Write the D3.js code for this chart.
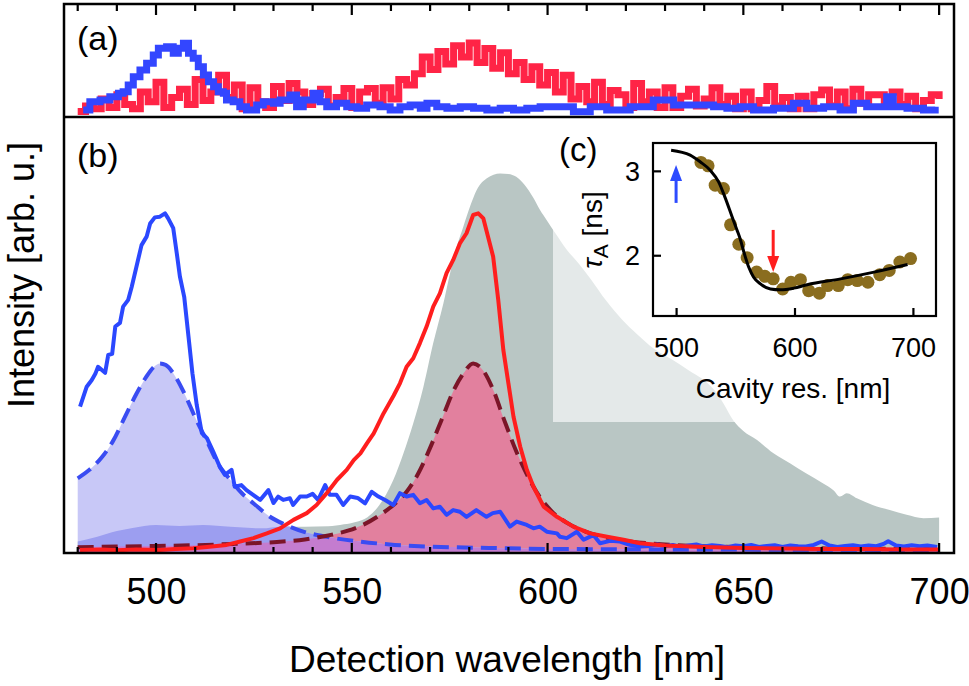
<!DOCTYPE html>
<html><head><meta charset="utf-8">
<script src="https://cdn.jsdelivr.net/npm/d3@7"></script>
<style>
body{margin:0;background:#fff}
svg{display:block}
text{font-family:"Liberation Sans",Arial,Helvetica,sans-serif;fill:#000}
</style>
</head><body>
<svg id="chart" width="969" height="686"></svg>
<script>
// ---------------- DATA ----------------
const mainTickLabels = [500, 550, 600, 650, 700];
const minorTicks = [480,490,500,510,520,530,540,550,560,570,580,590,600,610,620,630,640,650,660,670,680,690,700];
const insetXTicks = [500, 600, 700];
const insetYTicks = [2, 3];

// panel (a): [wavelength nm, counts (arb.)]
const redA = [[480,2],[482,10],[484,6],[486,20],[488,8],[490,26],[492,12],[494,6],[496,30],[498,16],[500,44],[502,8],[504,22],[506,34],[508,12],[510,48],[512,18],[514,30],[516,54],[518,22],[520,40],[522,6],[524,36],[526,16],[528,8],[530,38],[532,18],[534,42],[536,30],[538,12],[540,28],[542,34],[544,10],[546,22],[548,35],[550,8],[552,30],[554,35],[556,14],[558,36],[560,20],[562,48],[564,40],[566,56],[568,80],[570,62],[572,88],[574,70],[576,96],[578,80],[580,100],[582,72],[584,92],[586,64],[588,86],[590,56],[592,72],[594,48],[596,66],[598,40],[600,58],[602,30],[604,54],[606,20],[608,38],[610,16],[612,44],[614,12],[616,32],[618,26],[620,8],[622,42],[624,16],[626,30],[628,8],[630,36],[632,8],[634,24],[636,34],[638,10],[640,20],[642,36],[644,12],[646,24],[648,6],[650,30],[652,6],[654,18],[656,38],[658,10],[660,22],[662,6],[664,24],[666,6],[668,26],[670,33],[672,10],[674,30],[676,6],[678,34],[680,14],[682,26],[684,26],[686,10],[688,30],[690,12],[692,24],[694,6],[696,18],[698,26],[700,20]];
const blueA = [[481.4,4.3],[483.1,16.1],[485.7,18.6],[488.2,23.3],[490.4,28.1],[491.6,30.4],[492.9,40],[494.2,51.9],[495.9,61.4],[497.6,71],[499.3,82.9],[500.6,92.4],[502.7,94.7],[504.4,85.3],[505.7,92.4],[507,99.6],[508.3,85.3],[509.5,78.1],[510.8,66.1],[512.1,54.3],[513.4,44.7],[514.7,37.6],[515.9,30.4],[517.2,28.1],[518,18.6],[519.7,16.1],[521.4,9],[523.1,4.3],[525.7,11.4],[527.4,16.1],[530,13.9],[531.7,18.6],[534.2,25.7],[535.9,9],[537.6,18.6],[540.2,28.1],[541.9,16.1],[543.6,9],[546.1,13.9],[548.7,9],[551.3,6.7],[553.8,11.4],[557.2,9],[559.8,4.3],[562.3,9],[564.9,11.4],[567.5,6.7],[569.2,13.9],[571.7,9],[574.3,6.7],[577.7,9],[581.1,6.7],[584.5,4.3],[587.9,6.7],[591.3,4.3],[594.7,6.7],[598.1,9],[602.4,9],[606.6,1.9],[610.9,9],[615.1,4.3],[621.1,9],[627,18.6],[632.2,11.4],[638.1,11.4],[642.4,9],[645.8,6.7],[649.2,9],[652.6,4.3],[657.7,6.7],[662.8,13.9],[666.2,6.7],[670.5,9],[674.7,4.3],[678.1,13.9],[681.5,9],[686.6,23.3],[688.3,9],[691.8,6.7],[696,4.3],[699,9]];

// panel (b): [wavelength nm, intensity (arb.)]
const blueSolid = [[480.6,42.7],[482.3,48.6],[483.6,50.6],[484.5,52.4],[485.2,54.5],[486.1,53.6],[487,52.7],[487.8,58.0],[488.8,58.3],[489.6,66.4],[490.8,67.5],[491.6,72.3],[492.9,74.3],[493.8,78.2],[495,84.1],[496.3,90.5],[497.6,93.0],[498.5,96.9],[499.7,98.7],[501,98.9],[502.3,99.9],[503.1,98.4],[504.4,95.5],[505.3,88.1],[506.1,81.2],[507.2,75.2],[508.3,63.4],[509.3,52.6],[510.4,43.2],[511.7,34.9],[513,33.4],[514.6,29.4],[516.3,24.9],[517.6,22.5],[519.3,24.0],[520.1,19.0],[521.8,19.5],[523.1,18.0],[524.8,16.6],[526.6,15.1],[528.7,18.0],[530,14.2],[531.2,16.1],[532.5,15.1],[534.2,15.6],[535,13.6],[536.8,16.1],[538.5,16.1],[540,16.9],[541.4,15.1],[543.2,19.5],[544.4,16.6],[546.1,16.6],[547.8,13.6],[549.6,16.1],[551.5,15.7],[553.4,14.1],[555.1,17.5],[556.8,16.1],[558.5,15.1],[560.6,13.6],[562.3,17.1],[564,16.1],[565.7,16.6],[567.4,14.1],[569.1,15.1],[570.8,12.6],[572.5,13.1],[574.2,10.7],[575.9,12.1],[577.6,11.6],[579.3,10.1],[581.8,12.1],[584.4,10.1],[586,11.2],[587.9,11.6],[590.4,7.2],[592.1,8.7],[594.7,7.7],[596.4,6.7],[598,7.2],[599.8,5.7],[602.4,5.2],[603.2,4.2],[604.9,3.8],[607.5,5.7],[609.2,3.3],[611.7,4.7],[613.4,2.3],[616,3.0],[618.5,2.8],[621,1.8],[623.6,1.3],[626,1.5],[628,1.9],[630,1.4],[632,1.8],[634,1.2],[636,1.6],[638,1.9],[640,1.3],[642,1.7],[644,1.5],[646,1.1],[648,1.6],[650,1.4],[652,1.8],[654,1.2],[656,1.5],[658,1.7],[660,1.2],[662,1.6],[664,1.4],[666,1.3],[668,1.8],[670,2.8],[672,1.6],[674,1.2],[676,1.5],[678,1.7],[680,1.3],[682,1.6],[684,1.4],[686,2.2],[687,2.9],[689,1.6],[691,1.3],[693,1.7],[695,1.4],[697,1.6],[699.5,1.2]];
const redSolid = [[480.6,0.3],[486,0.4],[490,0.2],[495,0.4],[501,0.3],[505,0.6],[509.5,0.8],[513,1.2],[518,1.8],[521.5,2.8],[524.9,3.8],[528.3,5.2],[531.7,6.7],[535.1,9.2],[538.5,11.2],[541,13.6],[543.6,17.1],[546.2,21.0],[548.7,24.0],[550.5,26.9],[552.2,28.9],[553.9,31.9],[555.6,34.8],[558.1,40.7],[560.7,46.0],[562.3,49.6],[564,54.5],[565.7,57.0],[567.4,61.5],[569.1,66.4],[570.8,72.3],[572.5,76.2],[574.2,82.2],[575.9,86.1],[577.6,91.0],[579.3,94.0],[581,99.4],[582.3,99.9],[583.6,98.4],[584.8,93.0],[586.1,87.1],[587.4,74.3],[588.7,59.5],[590,49.6],[591.3,39.7],[593,30.9],[594.7,24.0],[596.4,19.0],[599,13.1],[602.4,10.1],[606.6,7.2],[610.9,5.2],[615.2,4.2],[619.4,3.3],[623.6,2.3],[630,1.6],[640,1.2],[650,0.9],[660,0.7],[670,0.6],[680,0.6],[690,0.4],[700,0.4]];
const blueFit = [[480,21.5],[483,24.0],[486,27.5],[489,32.5],[492,39.5],[495,46.5],[497.5,51.5],[499.5,54.5],[501,55.5],[502.5,55.0],[505,51.5],[507.5,46.0],[510,39.5],[513,32.5],[516,25.5],[519,21.0],[522,17.0],[525,14.0],[529,10.2],[533,7.8],[538,5.6],[544,4.1],[552,2.8],[561,1.8],[570,1.3],[585,0.9],[600,0.6],[650,0.4],[700,0.3]];
const redFit = [[480,1.1],[490,1.3],[500,1.5],[510,1.7],[520,2.1],[530,2.6],[538,3.4],[544,4.6],[549,6.0],[553,7.8],[557,10.5],[561,14.0],[564,17.5],[567,23.0],[570,30.5],[573,39.0],[576,47.5],[578.5,52.5],[581,55.5],[583.5,53.5],[586,48.0],[589,38.5],[592,29.5],[595,22.0],[598,16.0],[601,11.8],[605,8.3],[610,5.6],[615,4.0],[620,3.0],[630,1.9],[640,1.4],[650,1.1],[660,0.9],[680,0.7],[700,0.6]];
const grayCavity = [[480,2.8],[485,4.2],[490,5.9],[494,6.8],[500,7.7],[506,7.4],[512,7.7],[519,7.2],[527,6.7],[532,7.2],[538,7.2],[544,7.3],[548,7.9],[551,8.6],[554,10.0],[557,13.5],[560.6,21.0],[563.2,28.9],[565.7,37.8],[568.3,48.6],[570.8,61.5],[573.4,73.3],[575.1,82.2],[576.8,90.0],[578.5,96.0],[580.2,101.9],[581.9,106.8],[584.5,110.3],[587.9,111.7],[590,111.5],[592,110.7],[594,108.5],[596.4,104.4],[598,101],[600,97.5],[602,94],[605,89],[608,85],[611,80.5],[615,74],[619,68.5],[623,64],[627,60],[632,56.5],[636,53.5],[640,50.5],[643,47],[645,43.5],[647.5,38.5],[650,35.5],[653.5,32.8],[657.7,28.9],[662,25.9],[666,23.0],[670.4,20.0],[673,18.0],[674.7,16.1],[676.4,17.1],[679,15.6],[683,13.6],[687.4,12.1],[691.7,10.7],[696,9.7],[700,9.9]];

// inset (c)
const cavityRes = [521,527,533,540,546,553,560,568,575,582,590,597,605,612,621,628,637,645,653,662,672,680,689,698];
const tauA = [3.10,3.06,2.83,2.79,2.36,2.13,1.97,1.80,1.75,1.72,1.60,1.68,1.71,1.58,1.55,1.64,1.64,1.71,1.70,1.68,1.77,1.82,1.92,1.96];
const tauFit = [[495.8,3.245],[511.9,3.186],[520.3,3.107],[528.8,3.008],[535.9,2.87],[541.5,2.68],[547.2,2.46],[551.4,2.30],[554.2,2.19],[557.6,2.02],[561.3,1.86],[565.5,1.74],[571.2,1.66],[579.7,1.60],[588.1,1.59],[599.4,1.61],[610.7,1.65],[639,1.72],[667.2,1.80],[695.5,1.89]];
const blueArrow = {res: 500, from: 2.62, to: 3.07};
const redArrow = {res: 582, from: 2.30, to: 1.80};

// ---------------- DRAW ----------------
const svg = d3.select('#chart');
const L = 64, R = 954, TOP = 4, MID = 117, BOT = 553;

const x = d3.scaleLinear().domain([476.5, 703.8]).range([L, R]);
const yA = d3.scaleLinear().domain([-5.7, 155.7]).range([MID, TOP]);
const yB = d3.scaleLinear().domain([-0.6, 128.4]).range([BOT, MID]);
const xi = d3.scaleLinear().domain([480.5, 719.5]).range([653, 936]);
const yi = d3.scaleLinear().domain([1.28, 3.33]).range([316, 143]);

const defs = svg.append('defs');
defs.append('clipPath').attr('id','clipA').append('rect')
  .attr('x',L).attr('y',TOP).attr('width',R-L).attr('height',MID-TOP);
defs.append('clipPath').attr('id','clipB').append('rect')
  .attr('x',L).attr('y',MID).attr('width',R-L).attr('height',BOT-MID);

const area = d3.area().x(d=>x(d[0])).y0(yB(-0.6)).y1(d=>yB(d[1])).curve(d3.curveMonotoneX);
const lineB = d3.line().x(d=>x(d[0])).y(d=>yB(d[1])).curve(d3.curveMonotoneX);
const lineB2 = d3.line().x(d=>x(d[0])).y(d=>yB(d[1])).curve(d3.curveLinear);

defs.append('clipPath').attr('id','clipLav').append('path').attr('d', area(blueFit));

// ---- panel (a)
const gA = svg.append('g').attr('clip-path','url(#clipA)');
const lineA = d3.line().x(d=>x(d[0])).y(d=>yA(d[1])).curve(d3.curveStepAfter);
gA.append('path').attr('d', lineA(redA)).attr('fill','none').attr('stroke','#ff2446').attr('stroke-width',7);
gA.append('path').attr('d', lineA(blueA)).attr('fill','none').attr('stroke','#3346ff').attr('stroke-width',7);

// ---- panel (b)
const gB = svg.append('g').attr('clip-path','url(#clipB)');
gB.append('path').attr('d', area(grayCavity)).attr('fill','#b9c6c4');
gB.append('path').attr('d', area(redFit)).attr('fill','#e2809e');
gB.append('path').attr('d', area(blueFit)).attr('fill','#c8c8f7');
const gLav = gB.append('g').attr('clip-path','url(#clipLav)');
gLav.append('path').attr('d', area(grayCavity)).attr('fill','#9c9ef0');
gLav.append('path').attr('d', area(redFit)).attr('fill','#c47ccf');

// inset background (semi-transparent)
gB.append('rect').attr('x',553).attr('y',MID).attr('width',R-553).attr('height',422-MID)
  .attr('fill','#fff').attr('opacity',0.62);

gB.append('path').attr('d', lineB(blueFit)).attr('fill','none').attr('stroke','#3a4cf2')
  .attr('stroke-width',4).attr('stroke-dasharray','16,8');
gB.append('path').attr('d', lineB(redFit)).attr('fill','none').attr('stroke','#7b1528')
  .attr('stroke-width',4).attr('stroke-dasharray','16,8');
gB.append('path').attr('d', lineB2(blueSolid)).attr('fill','none').attr('stroke','#2b48ff')
  .attr('stroke-width',4).attr('stroke-linejoin','round');
gB.append('path').attr('d', lineB2(redSolid)).attr('fill','none').attr('stroke','#ff1e1e')
  .attr('stroke-width',4).attr('stroke-linejoin','round');

// ---- main ticks
function ticks(g, vals, size, y0, dir){
  g.selectAll(null).data(vals).join('line')
    .attr('x1',d=>x(d)).attr('x2',d=>x(d))
    .attr('y1',y0).attr('y2',d=>y0 + dir*(mainTickLabels.includes(d)?size[0]:size[1]))
    .attr('stroke','#000').attr('stroke-width',2.2);
}
const gT = svg.append('g');
ticks(gT, minorTicks, [10,6], BOT, -1);
ticks(gT, minorTicks, [11,7], TOP, 1);

// bottom labels via d3 axis (no lines)
const axB = svg.append('g').attr('transform',`translate(0,${BOT})`)
  .call(d3.axisBottom(x).tickValues(mainTickLabels).tickSize(0).tickPadding(25).tickFormat(d3.format('d')));
axB.select('.domain').remove();
axB.selectAll('text').attr('font-size',36).attr('font-family','"Liberation Sans",Arial,sans-serif').attr('fill','#000');

// frames
svg.append('rect').attr('x',L).attr('y',TOP).attr('width',R-L).attr('height',BOT-TOP)
  .attr('fill','none').attr('stroke','#000').attr('stroke-width',2.5);
svg.append('line').attr('x1',L).attr('x2',R).attr('y1',MID).attr('y2',MID)
  .attr('stroke','#000').attr('stroke-width',2.5);

// axis titles
svg.append('text').attr('x',507).attr('y',672).attr('text-anchor','middle')
  .attr('font-size',37).text('Detection wavelength [nm]');
svg.append('text').attr('transform','translate(34,275) rotate(-90)').attr('text-anchor','middle')
  .attr('font-size',36).text('Intensity [arb. u.]');

// panel labels
svg.append('text').attr('x',77).attr('y',50).attr('font-size',34).text('(a)');
svg.append('text').attr('x',77).attr('y',167).attr('font-size',34).text('(b)');
svg.append('text').attr('x',559).attr('y',161).attr('font-size',33).text('(c)');

// ---- inset (c)
const gI = svg.append('g');
const axIX = gI.append('g').attr('transform','translate(0,316)')
  .call(d3.axisBottom(xi).tickValues(insetXTicks).tickSize(-8).tickPadding(22).tickFormat(d3.format('d')));
const axIY = gI.append('g').attr('transform','translate(653,0)')
  .call(d3.axisLeft(yi).tickValues(insetYTicks).tickSize(-8).tickPadding(13).tickFormat(d3.format('d')));
[axIX, axIY].forEach(a=>{
  a.select('.domain').remove();
  a.selectAll('line').attr('stroke','#000').attr('stroke-width',2.2);
  a.selectAll('text').attr('font-size',27).attr('font-family','"Liberation Sans",Arial,sans-serif').attr('fill','#000');
});
axIY.selectAll('text').attr('dy','0.36em');

gI.selectAll('circle.pt').data(cavityRes.map((c,i)=>[c,tauA[i]])).join('circle')
  .attr('class','pt').attr('cx',d=>xi(d[0])).attr('cy',d=>yi(d[1])).attr('r',6.5).attr('fill','#8a6d1f');
gI.append('path').attr('d', d3.line().x(d=>xi(d[0])).y(d=>yi(d[1])).curve(d3.curveMonotoneX)(tauFit))
  .attr('fill','none').attr('stroke','#000').attr('stroke-width',3);

function arrow(a, color){
  const xx = xi(a.res), y1 = yi(a.from), y2 = yi(a.to);
  const dir = Math.sign(y2 - y1);
  const headL = 16, headW = 6;
  gI.append('line').attr('x1',xx).attr('x2',xx).attr('y1',y1).attr('y2',y2 - dir*headL)
    .attr('stroke',color).attr('stroke-width',3);
  gI.append('path').attr('d',`M${xx},${y2} L${xx-headW},${y2-dir*headL} L${xx+headW},${y2-dir*headL} Z`)
    .attr('fill',color);
}
arrow(blueArrow, '#2d4bff');
arrow(redArrow, '#ff1e1e');

gI.append('rect').attr('x',653).attr('y',143).attr('width',936-653).attr('height',316-143)
  .attr('fill','none').attr('stroke','#000').attr('stroke-width',2.2);

gI.append('text').attr('x',793).attr('y',398).attr('text-anchor','middle')
  .attr('font-size',28).text('Cavity res. [nm]');
const tl = gI.append('text').attr('transform','translate(602,230) rotate(-90)').attr('text-anchor','middle')
  .attr('font-size',28);
tl.append('tspan').attr('font-style','italic').text('τ');
tl.append('tspan').attr('font-size',21).attr('dy',6).text('A');
tl.append('tspan').attr('dy',-6).text(' [ns]');
</script>
</body></html>
